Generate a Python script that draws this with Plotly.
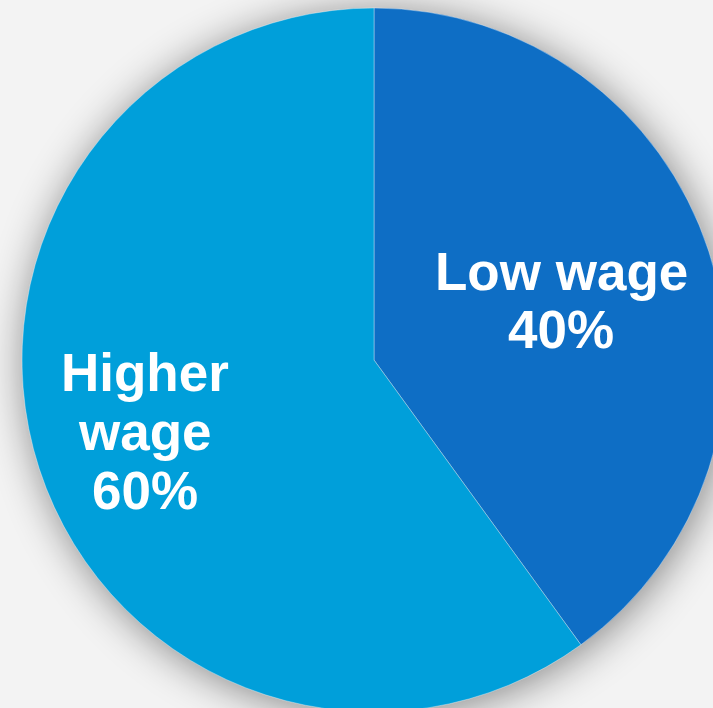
import plotly.graph_objects as go

# Share of jobs by wage level
labels = ["Low wage", "Higher wage"]
values = [40, 60]
label_lines = [["Low wage"], ["Higher", "wage"]]
colors = ["#0E6EC5", "#009FDA"]

# Canvas is a little larger than the visible window so the pie runs off the right/bottom edge
W, H = 748, 720
CX, CY, R = 374, 360, 352

fig = go.Figure(
    go.Pie(
        labels=labels,
        values=values,
        sort=False,
        direction="clockwise",
        rotation=0,
        textinfo="none",
        hoverinfo="label+percent",
        marker=dict(colors=colors, line=dict(color="rgba(255,255,255,0.35)", width=1)),
        domain=dict(x=[(CX - R) / W, (CX + R) / W], y=[(H - CY - R) / H, (H - CY + R) / H]),
        showlegend=False,
    )
)

# Label block centres (pixels) and line spacing
label_pos = [(561, 271), (145, 372)]
line_step = 59
font = dict(family="Liberation Sans, Arial, sans-serif", size=53, color="white", weight="bold")

total = sum(values)
annotations = []
for (px, py), lines, v in zip(label_pos, label_lines, values):
    rows = lines + [f"{round(100 * v / total)}%"]
    for i, row in enumerate(rows):
        annotations.append(
            dict(
                text=row,
                x=px / W,
                y=1 - (py + i * line_step) / H,
                xref="paper",
                yref="paper",
                xanchor="center",
                yanchor="middle",
                showarrow=False,
                font=font,
            )
        )

fig.update_layout(
    width=W,
    height=H,
    margin=dict(l=0, r=0, t=0, b=0),
    paper_bgcolor="rgba(0,0,0,0)",
    plot_bgcolor="rgba(0,0,0,0)",
    annotations=annotations,
)

post = (
    "document.documentElement.style.background='#f3f3f3';"
    "document.body.style.background='#f3f3f3';"
    "document.body.style.margin='0';"
    "document.body.style.overflow='hidden';"
    "document.documentElement.style.overflow='hidden';"
    "var d=document.getElementById('{plot_id}');"
    "if(d){var s=d.querySelector('.main-svg');"
    "if(s){s.style.filter='drop-shadow(3px 4px 20px rgba(0,0,0,0.45))';}}"
)

fig.write_html("out.html", post_script=post, config=dict(displayModeBar=False))
